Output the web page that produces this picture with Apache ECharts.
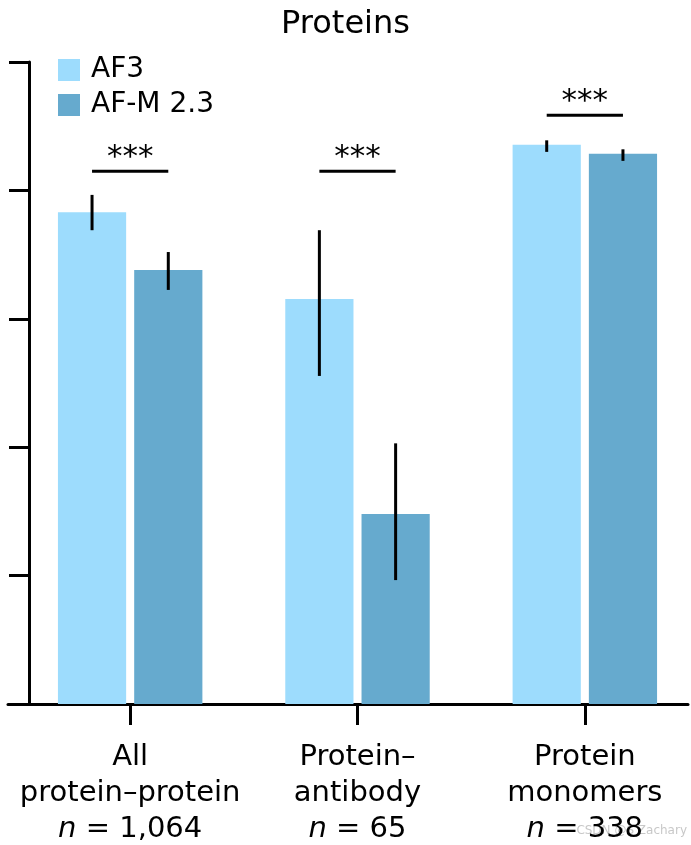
<!DOCTYPE html>
<html>
<head>
<meta charset="utf-8">
<script src="https://cdn.jsdelivr.net/npm/echarts@6/dist/echarts.min.js"></script>
<style>html,body{margin:0;padding:0;background:#fff}#c{width:691px;height:845px}</style>
</head>
<body>
<div id="c"></div>
<script>
const categories = ['All\nprotein\u2013protein', 'Protein\u2013\nantibody', 'Protein\nmonomers'];
const nCounts = ['1,064', '65', '338'];
const seriesNames = ['AF3', 'AF-M 2.3'];
const af3 = [0.766, 0.631, 0.871];
const afm = [0.676, 0.296, 0.857];
const af3Low = [0.738, 0.511, 0.860];
const af3High = [0.793, 0.738, 0.878];
const afmLow = [0.645, 0.193, 0.846];
const afmHigh = [0.704, 0.406, 0.864];
const sigY = [0.830, 0.830, 0.917];
const sigLabels = ['***', '***', '***'];
const yTicks = [0, 0.2, 0.4, 0.6, 0.8, 1.0];

const FONT = 'DejaVu Sans';
const colors = ['#9DDCFD', '#66AACE'];
const BAR_W = 0.30, BAR_GAP = 0.118;

function barCenter(api, cat, which) {
  const c = api.coord([cat, 0]);
  const band = api.size([1, 0])[0];
  const bw = band * BAR_W;
  const off = (bw + bw * BAR_GAP) / 2;
  return c[0] + (which === 0 ? -off : off);
}

const errData = [];
for (let i = 0; i < categories.length; i++) {
  errData.push([i, af3Low[i], af3High[i], 0]);
  errData.push([i, afmLow[i], afmHigh[i], 1]);
}
const sigData = sigY.map((v, i) => [i, v, sigLabels[i]]);

const chart = echarts.init(document.getElementById('c'));
chart.setOption({
  animation: false,
  title: {
    text: 'Proteins', left: 'center', top: 4,
    textStyle: { fontFamily: FONT, fontSize: 32, fontWeight: 'normal', color: '#000' }
  },
  legend: {
    orient: 'vertical', left: 53, top: 51,
    itemWidth: 22, itemHeight: 22, itemGap: 7,
    icon: 'rect',
    textStyle: { fontFamily: FONT, fontSize: 28, color: '#000', lineHeight: 22, padding: [0, 0, 0, 6] },
    data: seriesNames
  },
  grid: [
    { left: 16.5, top: 62, width: 682, height: 642, outerBoundsMode: 'none', containLabel: false },
    { left: 8, right: 3, top: 62, height: 642, outerBoundsMode: 'none' },
    { left: 29, right: 3, top: 62, height: 642, outerBoundsMode: 'none' }
  ],
  xAxis: [
    {
      type: 'category', gridIndex: 0, data: categories,
      axisLine: { show: false },
      axisTick: { show: true, interval: 0, alignWithLabel: true, length: 21, lineStyle: { width: 3, color: '#000' } },
      axisLabel: {
        interval: 0, hideOverlap: false,
        margin: 35, fontFamily: FONT, fontSize: 29, color: '#000', lineHeight: 36,
        formatter: (v, i) => v + '\n{i|n} = ' + nCounts[i],
        rich: { i: { fontFamily: FONT, fontSize: 29, fontStyle: 'italic', color: '#000', lineHeight: 36 } }
      }
    },
    {
      type: 'value', gridIndex: 1, min: 0, max: 1,
      axisLine: { show: true, lineStyle: { width: 3, color: '#000' } },
      axisTick: { show: false }, axisLabel: { show: false }, splitLine: { show: false }
    },
    {
      type: 'value', gridIndex: 2, min: 0, max: 1, show: false
    }
  ],
  yAxis: [
    { type: 'value', gridIndex: 0, min: 0, max: 1, show: false },
    { type: 'value', gridIndex: 1, min: 0, max: 1, show: false },
    {
      type: 'value', gridIndex: 2, min: yTicks[0], max: yTicks[yTicks.length - 1], interval: 0.2,
      axisLine: { show: true, lineStyle: { width: 3, color: '#000' } },
      axisTick: { show: true, length: 20, lineStyle: { width: 3, color: '#000' } },
      axisLabel: { show: false }, splitLine: { show: false }
    }
  ],
  series: [
    {
      name: seriesNames[0], type: 'bar', xAxisIndex: 0, yAxisIndex: 0,
      data: af3, barWidth: (BAR_W * 100) + '%', barGap: (BAR_GAP * 100) + '%',
      itemStyle: { color: colors[0] }
    },
    {
      name: seriesNames[1], type: 'bar', xAxisIndex: 0, yAxisIndex: 0,
      data: afm, barWidth: (BAR_W * 100) + '%', barGap: (BAR_GAP * 100) + '%',
      itemStyle: { color: colors[1] }
    },
    {
      type: 'custom', xAxisIndex: 0, yAxisIndex: 0, data: errData,
      encode: { x: 0, y: [1, 2] }, z: 5,
      renderItem: (params, api) => {
        const cat = api.value(0), which = api.value(3);
        const x = barCenter(api, cat, which);
        const lo = api.coord([cat, api.value(1)])[1];
        const hi = api.coord([cat, api.value(2)])[1];
        return { type: 'line', shape: { x1: x, y1: lo, x2: x, y2: hi },
          style: { stroke: '#000', lineWidth: 3 } };
      }
    },
    {
      type: 'custom', xAxisIndex: 0, yAxisIndex: 0, data: sigData,
      encode: { x: 0, y: 1 }, z: 5,
      renderItem: (params, api) => {
        const cat = api.value(0);
        const x1 = barCenter(api, cat, 0), x2 = barCenter(api, cat, 1);
        const y = api.coord([cat, api.value(1)])[1];
        return { type: 'group', children: [
          { type: 'line', shape: { x1: x1, y1: y, x2: x2, y2: y }, style: { stroke: '#000', lineWidth: 3 } },
          { type: 'text', x: (x1 + x2) / 2, y: y - 13,
            style: { text: sigLabels[params.dataIndex], fontFamily: FONT, fontSize: 31, fill: '#000',
                     align: 'center', verticalAlign: 'middle' } }
        ] };
      }
    }
  ],
  graphic: [
    { type: 'text', right: 4, bottom: 8, style: { text: 'CSDN @S Zachary', fontFamily: FONT, fontSize: 12, fill: '#c8c8c8' } }
  ]
});
</script>
</body>
</html>
